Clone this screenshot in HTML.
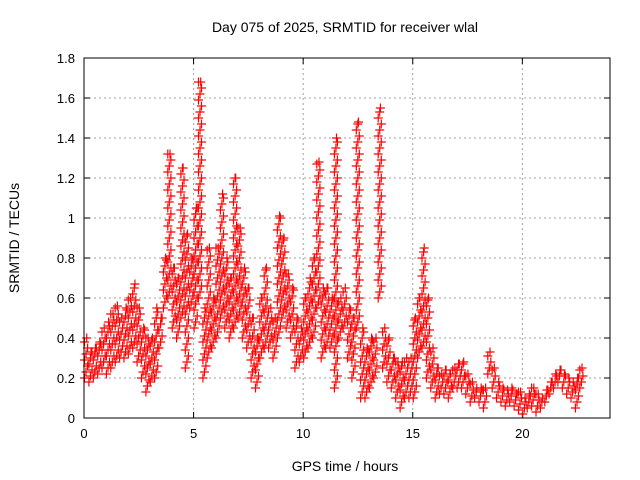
<!DOCTYPE html>
<html><head><meta charset="utf-8"><style>
html,body{margin:0;padding:0;background:#fff;}
svg{display:block;font-family:"Liberation Sans",sans-serif;}
</style></head><body>
<svg id="chart" width="640" height="480" viewBox="0 0 640 480">
<rect width="640" height="480" fill="#fff"/>
<text x="345" y="32" font-size="14" text-anchor="middle">Day 075 of 2025, SRMTID for receiver wlal</text>
<text x="345" y="471" font-size="14" text-anchor="middle">GPS time / hours</text>
<text transform="translate(19,238) rotate(-90)" font-size="14" text-anchor="middle">SRMTID / TECUs</text>
<g id="grid"></g>
<g id="ticks"></g>
<g id="marks"></g>
<rect x="84" y="58" width="526" height="360" fill="none" stroke="#000" stroke-width="1"/>
</svg>
<script>
const xTicks = [0,5,10,15,20];
const yTicks = [0,0.2,0.4,0.6,0.8,1,1.2,1.4,1.6,1.8];
const yTickLabels = ["0","0.2","0.4","0.6","0.8","1","1.2","1.4","1.6","1.8"];
const times = [0,0.2,0.4,0.6,0.8,1.0,1.2,1.4,1.6,1.8,2.0,2.2,2.4,2.6,2.8,3.0,3.2,3.4,3.6,3.8,4.0,4.2,4.4,4.6,4.8,5.0,5.2,5.4,5.6,5.8,6.0,6.2,6.4,6.6,6.8,7.0,7.2,7.4,7.6,7.8,8.0,8.2,8.4,8.6,8.8,9.0,9.2,9.4,9.6,9.8,10.0,10.2,10.4,10.6,10.8,11.0,11.2,11.4,11.6,11.8,12.0,12.2,12.4,12.6,12.8,13.0,13.2,13.4,13.6,13.8,14.0,14.2,14.4,14.6,14.8,15.0,15.2,15.4,15.6,15.8,16.0,16.2,16.4,16.6,16.8,17.0,17.2,17.4,17.6,17.8,18.0,18.2,18.4,18.6,18.8,19.0,19.2,19.4,19.6,19.8,20.0,20.2,20.4,20.6,20.8,21.0,21.2,21.4,21.6,21.8,22.0,22.2,22.4,22.6];
const lows = [.20,.18,.20,.22,.25,.22,.25,.28,.30,.30,.32,.35,.28,.20,.13,.18,.20,.35,.55,.60,.45,.40,.50,.25,.55,.45,.60,.20,.30,.35,.40,.50,.45,.40,.45,.50,.40,.35,.20,.15,.30,.35,.35,.30,.40,.50,.45,.40,.25,.28,.30,.35,.40,.55,.30,.35,.35,.15,.40,.45,.30,.20,.45,.10,.10,.15,.20,.60,.25,.18,.15,.10,.05,.10,.10,.10,.30,.35,.20,.15,.10,.12,.12,.10,.15,.15,.15,.12,.08,.10,.08,.05,.22,.15,.10,.08,.06,.08,.06,.04,.02,.05,.06,.03,.05,.08,.12,.15,.18,.15,.12,.10,.05,.15];
const highs = [.40,.33,.35,.38,.45,.48,.52,.56,.50,.55,.60,.67,.55,.45,.40,.40,.55,.50,.80,1.32,.75,.70,1.25,.92,.80,1.05,1.68,.55,.85,.60,.85,1.12,.80,.70,1.20,.95,.75,.65,.50,.40,.60,.75,.55,.50,1.01,.90,.72,.65,.50,.45,.60,.70,.80,1.28,.65,.65,.60,1.40,.60,.65,.55,.50,1.48,.45,.35,.40,.40,1.55,.45,.40,.30,.28,.28,.30,.30,.50,.60,.85,.60,.35,.25,.22,.24,.22,.25,.27,.28,.22,.18,.15,.15,.15,.33,.25,.18,.15,.14,.15,.12,.13,.10,.12,.15,.12,.10,.14,.18,.22,.24,.22,.20,.18,.20,.25];

const X0=84,X1=610,Y0=418,Y1=58;
function xs(t){return X0+t*(X1-X0)/24;}
function ys(v){return Y0-v*(Y0-Y1)/1.8;}
const NS="http://www.w3.org/2000/svg";
const svg=document.getElementById('chart');
const grid=document.getElementById('grid'), ticks=document.getElementById('ticks'), marks=document.getElementById('marks');

xTicks.forEach(t=>{
  const x=xs(t);
  if(t>0){const g=document.createElementNS(NS,'line');
  g.setAttribute('x1',x);g.setAttribute('x2',x);g.setAttribute('y1',Y1);g.setAttribute('y2',Y0);
  g.setAttribute('stroke','#a0a0a0');g.setAttribute('stroke-dasharray','2,3');
  
  
  grid.appendChild(g);}
  const tk=document.createElementNS(NS,'path');
  tk.setAttribute('d',`M${x},${Y0}v-6M${x},${Y1}v6`);tk.setAttribute('stroke','#000');
  
  
  ticks.appendChild(tk);
  const lb=document.createElementNS(NS,'text');
  lb.setAttribute('x',x);lb.setAttribute('y',Y0+20);lb.setAttribute('font-size','13');lb.setAttribute('text-anchor','middle');
  lb.textContent=t;
  
  
  ticks.appendChild(lb);
});
yTicks.forEach((v,i)=>{
  const y=ys(v);
  if(v>0){const g=document.createElementNS(NS,'line');
  g.setAttribute('x1',X0);g.setAttribute('x2',X1);g.setAttribute('y1',y);g.setAttribute('y2',y);
  g.setAttribute('stroke','#a0a0a0');g.setAttribute('stroke-dasharray','2,3');
  
  
  grid.appendChild(g);}
  const tk=document.createElementNS(NS,'path');
  tk.setAttribute('d',`M${X0},${y}h6M${X1},${y}h-6`);tk.setAttribute('stroke','#000');
  
  
  ticks.appendChild(tk);
  const lb=document.createElementNS(NS,'text');
  lb.setAttribute('x',X0-9);lb.setAttribute('y',y+5);lb.setAttribute('font-size','13');lb.setAttribute('text-anchor','end');
  lb.textContent=yTickLabels[i];
  
  
  ticks.appendChild(lb);
});
times.forEach((t,i)=>{
  let d='';
  const lo=lows[i], hi=highs[i];
  let k=0;
  for(let v=lo; v<=hi+1e-9; v+=0.03){
    const x=xs(t+(k%3)*0.07), y=ys(v);
    d+=`M${(x-4).toFixed(1)},${y.toFixed(1)}h9M${(x+0.5).toFixed(1)},${(y-4.5).toFixed(1)}v9`;
    k++;
  }
  const x=xs(t+0.1), y=ys(hi);
  d+=`M${(x-4).toFixed(1)},${y.toFixed(1)}h9M${(x+0.5).toFixed(1)},${(y-4.5).toFixed(1)}v9`;
  const p=document.createElementNS(NS,'path');
  p.setAttribute('d',d);p.setAttribute('stroke','#ff0000');p.setAttribute('stroke-width','1.2');p.setAttribute('fill','none');
  
  
  marks.appendChild(p);
});
</script>
</body></html>
